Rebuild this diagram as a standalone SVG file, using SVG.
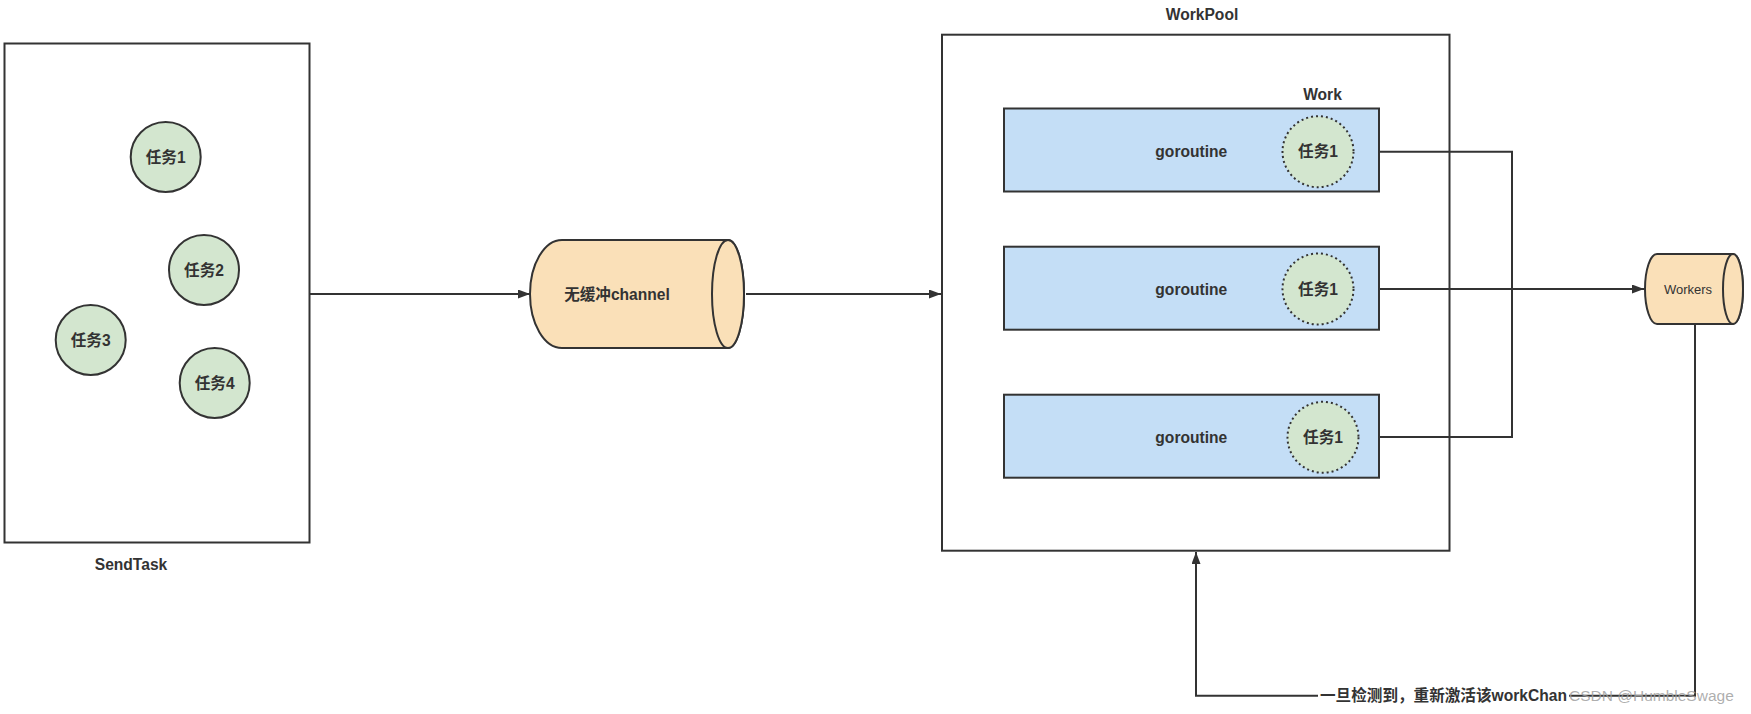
<svg xmlns="http://www.w3.org/2000/svg" width="1751" height="714" viewBox="0 0 1751 714">
<style>
  .box{fill:#ffffff;stroke:#333333;stroke-width:2}
  .task{fill:#d3e6cf;stroke:#333333;stroke-width:2}
  .task-dot{fill:#d3e6cf;stroke:#333333;stroke-width:2;stroke-dasharray:2 3}
  .gor{fill:#c4def6;stroke:#333333;stroke-width:2}
  .cyl{fill:#fae0b8;stroke:#333333;stroke-width:2}
  .edge{fill:none;stroke:#333333;stroke-width:2}
  .t{font-family:"Liberation Sans","Noto Sans CJK SC",sans-serif;font-size:15.6px;font-weight:bold;fill:#333333;text-anchor:middle;dominant-baseline:central}
  .ts{font-family:"Liberation Sans","Noto Sans CJK SC",sans-serif;font-size:13px;fill:#333333;text-anchor:middle;dominant-baseline:central}
  .wm{font-family:"Liberation Sans",sans-serif;font-size:15.5px;fill:#a0a0a0;fill-opacity:0.85;dominant-baseline:central}
</style>
<defs>
  <marker id="arr" markerUnits="userSpaceOnUse" markerWidth="13" markerHeight="10" refX="12" refY="4.5" orient="auto">
    <path d="M0,0 L12,4.5 L0,9 Z" fill="#333333"/>
  </marker>
</defs>

<g id="sendtask">
  <rect class="box" x="4.5" y="43.5" width="305" height="499"/>
  <text class="t" x="131" y="564" style="font-weight:bold">SendTask</text>
</g>
<g id="task1">
  <circle class="task" cx="165.7" cy="157" r="35"/>
  <text class="t" x="165.7" y="157">任务1</text>
</g>
<g id="task2">
  <circle class="task" cx="204" cy="270" r="35"/>
  <text class="t" x="204" y="270">任务2</text>
</g>
<g id="task3">
  <circle class="task" cx="90.7" cy="340" r="35"/>
  <text class="t" x="90.7" y="340">任务3</text>
</g>
<g id="task4">
  <circle class="task" cx="214.7" cy="383" r="35"/>
  <text class="t" x="214.7" y="383">任务4</text>
</g>

<g id="channel">
  <path class="cyl" d="M562,240 L728,240 A16,54 0 0 1 728,348 L562,348 A32,54 0 0 1 562,240 Z"/>
  <ellipse class="cyl" cx="728" cy="294" rx="16" ry="54"/>
  <text class="t" x="617" y="294">无缓冲channel</text>
</g>

<g id="workpool">
  <rect class="box" x="942" y="34.7" width="507.5" height="516"/>
  <text class="t" x="1202" y="14.6">WorkPool</text>
  <text class="t" x="1322.5" y="94.2">Work</text>
</g>

<g id="work1">
  <rect class="gor" x="1004" y="108.5" width="375" height="83"/>
  <text class="t" x="1191.3" y="151.7">goroutine</text>
  <circle class="task-dot" cx="1318" cy="151.7" r="35.5"/>
  <text class="t" x="1318" y="151.7">任务1</text>
</g>
<g id="work2">
  <rect class="gor" x="1004" y="246.7" width="375" height="83"/>
  <text class="t" x="1191.3" y="289">goroutine</text>
  <circle class="task-dot" cx="1318" cy="289" r="35.5"/>
  <text class="t" x="1318" y="289">任务1</text>
</g>
<g id="work3">
  <rect class="gor" x="1004" y="394.7" width="375" height="83"/>
  <text class="t" x="1191.3" y="437">goroutine</text>
  <circle class="task-dot" cx="1323" cy="437.3" r="35.5"/>
  <text class="t" x="1323" y="437.3">任务1</text>
</g>

<g id="workers">
  <path class="cyl" d="M1657,254 L1733,254 A10,35 0 0 1 1733,324 L1657,324 A12,35 0 0 1 1657,254 Z"/>
  <ellipse class="cyl" cx="1733" cy="289" rx="10" ry="35"/>
  <text class="ts" x="1688" y="289.3">Workers</text>
</g>

<g id="connectors">
  <line class="edge" x1="310" y1="294" x2="530" y2="294" marker-end="url(#arr)"/>
  <line class="edge" x1="746" y1="294" x2="941" y2="294" marker-end="url(#arr)"/>
  <polyline class="edge" points="1379,151.7 1512,151.7 1512,289 1644,289"/>
  <polyline class="edge" points="1379,437 1512,437 1512,289 1644,289"/>
  <line class="edge" x1="1379" y1="289" x2="1644" y2="289" marker-end="url(#arr)"/>
  <polyline class="edge" points="1695,324 1695,695.7 1196,695.7 1196,552" marker-end="url(#arr)"/>
  <rect x="1318" y="686" width="251" height="20" fill="#ffffff"/>
  <text class="t" x="1320" y="695.7" style="text-anchor:start">一旦检测到，重新激活该workChan</text>
</g>

<text class="wm" x="1569" y="695">CSDN @HumbleSwage</text>
</svg>
